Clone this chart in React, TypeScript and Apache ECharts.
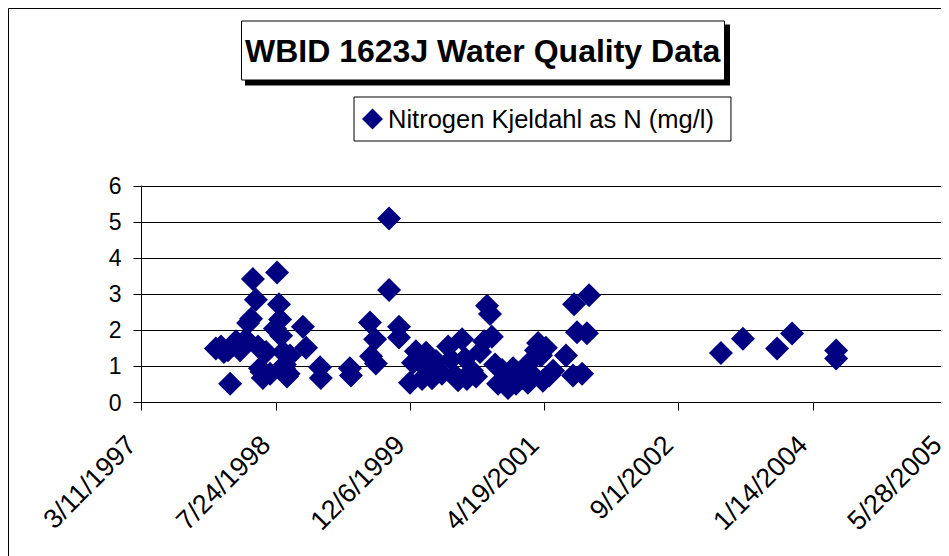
import React, { useEffect, useRef } from "react";
import * as echarts from "echarts";

const TITLE = "WBID 1623J Water Quality Data";
const SERIES_NAME = "Nitrogen Kjeldahl as N (mg/l)";

const sampleDates = [
  "1997-12-13", "1998-01-01", "1998-01-12", "1998-01-27", "1998-02-04", "1998-02-15",
  "1998-02-26", "1998-03-13", "1998-03-24", "1998-04-04", "1998-04-12", "1998-04-23",
  "1998-04-30", "1998-05-11", "1998-05-19", "1998-05-26", "1998-06-01", "1998-06-06",
  "1998-06-18", "1998-07-03", "1998-07-21", "1998-07-29", "1998-08-05", "1998-08-09",
  "1998-08-13", "1998-08-20", "1998-08-24", "1998-08-27", "1998-09-04", "1998-09-10",
  "1998-09-15", "1998-11-02", "1998-11-14", "1999-01-05", "1999-01-08",
  "1999-04-26", "1999-04-30", "1999-07-10", "1999-07-14", "1999-07-29", "1999-08-01",
  "1999-09-19", "1999-09-19", "1999-10-26", "1999-10-26", "1999-12-06", "1999-12-17",
  "1999-12-28", "2000-01-08", "2000-01-20", "2000-02-04", "2000-02-15", "2000-02-26",
  "2000-03-12", "2000-04-03", "2000-04-26", "2000-05-07", "2000-05-22", "2000-06-02",
  "2000-06-17", "2000-06-28", "2000-07-05", "2000-07-24", "2000-08-08", "2000-08-23",
  "2000-09-07", "2000-09-18", "2000-09-29", "2000-10-06", "2000-10-18", "2000-10-29",
  "2000-11-13", "2000-11-24", "2000-12-05", "2000-12-12", "2000-12-24", "2001-01-04",
  "2001-01-15", "2001-01-26", "2001-02-06", "2001-02-17", "2001-02-25", "2001-03-08",
  "2001-03-19", "2001-03-27", "2001-04-07", "2001-04-14", "2001-04-25", "2001-05-07",
  "2001-05-22", "2001-07-09", "2001-08-04", "2001-08-08", "2001-08-19", "2001-09-07",
  "2001-09-25", "2001-10-03", "2003-02-06", "2003-04-29", "2003-09-03", "2003-10-29",
  "2004-04-10", "2004-04-10",
];

const nitrogenValues = [
  1.5, 1.55, 1.4, 1.45, 0.52, 1.6,
  1.7, 1.45, 1.55, 1.75, 2.2, 2.32,
  3.42, 2.85, 1.55, 0.95, 0.85, 0.68,
  1.4, 0.8, 2.05, 3.6, 2.72, 2.3,
  1.85, 1.4, 0.95, 1.05, 0.72, 0.8,
  1.3, 2.1, 1.52, 0.98, 0.68,
  0.95, 0.75, 2.22, 1.28, 1.75, 1.08,
  5.1, 3.12, 2.1, 1.8, 0.55, 1.1,
  1.42, 1.15, 0.65, 1.38, 1.0, 0.67,
  1.15, 0.8, 1.55, 1.2, 0.75, 0.62,
  1.75, 1.22, 0.65, 0.88, 0.72, 1.4,
  1.7, 2.68, 2.45, 1.82, 1.05, 0.52,
  0.9, 0.55, 0.4, 0.78, 0.95, 0.52,
  0.8, 0.68, 0.95, 0.55, 1.12, 0.75,
  1.45, 1.65, 1.3, 0.6, 1.52, 0.75,
  0.88, 1.3, 0.75, 2.72, 1.95, 0.8,
  1.92, 2.97, 1.37, 1.77, 1.5, 1.91,
  1.44, 1.22,
];

// Excel-style date serials for the axis range (3/11/1997 .. 5/28/2005, step 500 days)
const X_MIN = 35500;
const X_MAX = 38500;
const X_STEP = 500;
const Y_MIN = 0;
const Y_MAX = 6;
const Y_STEP = 1;

const FONT = "'Liberation Sans', Arial, Helvetica, sans-serif";

function toSerial(s: string): number {
  const [y, m, d] = s.split("-").map(Number);
  return Date.UTC(y, m - 1, d) / 86400000 + 25569;
}

function serialLabel(v: number): string {
  const dt = new Date(Math.round((v - 25569) * 86400000));
  return `${dt.getUTCMonth() + 1}/${dt.getUTCDate()}/${dt.getUTCFullYear()}`;
}

export default function App() {
  const ref = useRef<HTMLDivElement>(null);

  useEffect(() => {
    if (!ref.current) return;
    const chart = echarts.init(ref.current, undefined, { renderer: "svg" });
    const points = sampleDates.map((d, i) => [toSerial(d), nitrogenValues[i]]);

    chart.setOption({
      animation: false,
      backgroundColor: "#fff",
      title: {
        text: TITLE,
        left: 233,
        top: 12.5,
        padding: [14, 4, 14, 4],
        borderColor: "#000",
        borderWidth: 1,
        backgroundColor: "#fff",
        textStyle: {
          fontFamily: FONT,
          fontSize: 32,
          fontWeight: "bold",
          color: "#000",
        },
      },
      legend: {
        data: [SERIES_NAME],
        left: 346,
        top: 89,
        padding: [9, 17, 9, 8],
        borderColor: "#000",
        borderWidth: 1,
        backgroundColor: "#fff",
        icon: "diamond",
        itemWidth: 21,
        itemHeight: 21,
        textStyle: { fontFamily: FONT, fontSize: 25.5, color: "#000" },
      },
      graphic: [
        {
          type: "rect",
          shape: { x: 0.5, y: 0.5, width: 3000, height: 3000 },
          style: { fill: "none", stroke: "#000", lineWidth: 1 },
          silent: true,
          z: -10,
        },
        {
          type: "rect",
          shape: { x: 237, y: 16.5, width: 485, height: 61 },
          style: { fill: "#000" },
          silent: true,
          z: 0,
        },
      ],
      grid: {
        left: 133.5,
        top: 178,
        width: 805.5,
        height: 216.5,
        containLabel: false,
      },
      xAxis: {
        type: "value",
        min: X_MIN,
        max: X_MAX,
        interval: X_STEP,
        splitLine: { show: false },
        axisLine: { show: true, onZero: false, lineStyle: { color: "#000", width: 1 } },
        axisTick: { show: true, inside: false, length: 8, lineStyle: { color: "#000" } },
        axisLabel: {
          rotate: 45,
          margin: 28,
          padding: [0, 14, 0, 0],
          fontFamily: FONT,
          fontSize: 27,
          color: "#000",
          showMinLabel: true,
          showMaxLabel: true,
          formatter: (v: number) => serialLabel(v),
        },
      },
      yAxis: {
        type: "value",
        min: Y_MIN,
        max: Y_MAX,
        interval: Y_STEP,
        splitLine: { show: true, lineStyle: { color: "#000", width: 1 } },
        axisLine: { show: true, lineStyle: { color: "#000", width: 1 } },
        axisTick: { show: true, inside: false, length: 8, lineStyle: { color: "#000" } },
        axisLabel: {
          margin: 20,
          fontFamily: FONT,
          fontSize: 23,
          color: "#000",
        },
      },
      series: [
        {
          name: SERIES_NAME,
          type: "scatter",
          symbol: "diamond",
          symbolSize: 24,
          itemStyle: { color: "#000080", opacity: 1 },
          data: points,
        },
      ],
    });

    return () => chart.dispose();
  }, []);

  return <div ref={ref} style={{ width: 941, height: 548 }} />;
}
